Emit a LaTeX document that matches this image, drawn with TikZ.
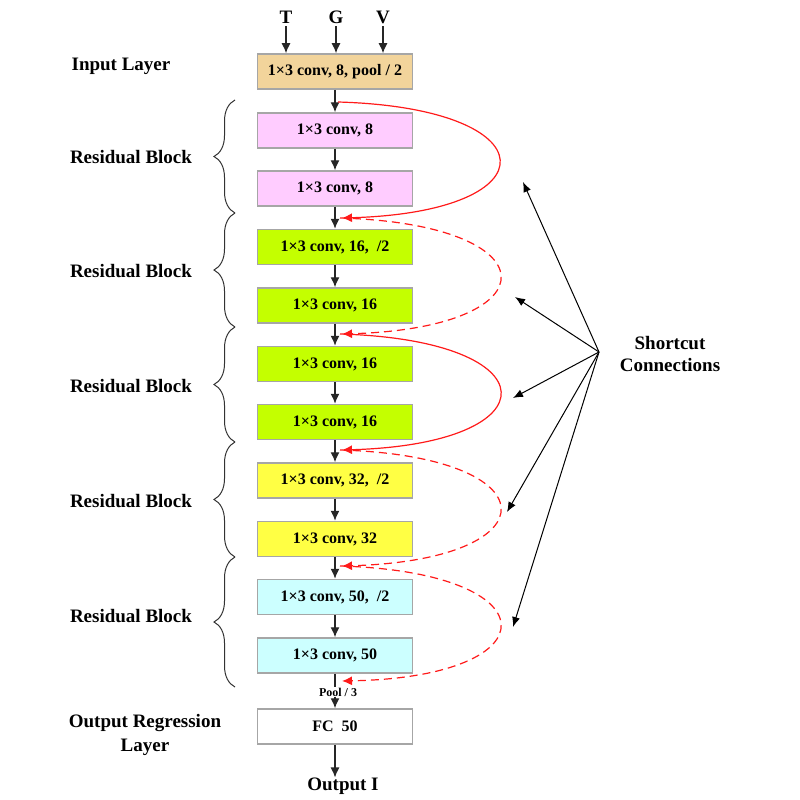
\documentclass[tikz,border=0pt]{standalone}
\usepackage{fontspec}
\setmainfont{Liberation Serif}
\usetikzlibrary{arrows.meta,decorations.pathreplacing,calc}
\definecolor{tanc}{HTML}{F2D49B}
\definecolor{pinkc}{HTML}{FFCCFF}
\definecolor{greenc}{HTML}{C4FF00}
\definecolor{yellowc}{HTML}{FFFF44}
\definecolor{cyanc}{HTML}{CCFFFF}
\definecolor{bordc}{HTML}{A6A6A6}
\definecolor{redc}{HTML}{FF1A1A}
\tikzset{
  layer/.style={draw=bordc,line width=1.5pt,minimum width=155pt,minimum height=35pt,inner sep=0pt,font=\fontsize{16}{18}\selectfont\bfseries},
  lbl/.style={font=\fontsize{19}{22}\selectfont\bfseries,inner sep=0pt,align=center},
  inp/.style={font=\fontsize{19}{22}\selectfont\bfseries,inner sep=0pt,outer sep=3pt},
  flow/.style={line width=1.3pt,draw=black!85,-{Latex[length=10pt,width=9pt]}},
  sc/.style={line width=1.2pt,draw=redc,-{Latex[length=10pt,width=9pt]}},
  scd/.style={sc,dash pattern=on 8pt off 5pt},
  pointer/.style={line width=1pt,-{Latex[length=10pt,width=8pt]}},
  brc/.style={decorate,decoration={brace,amplitude=21pt},line width=1pt,draw=black!80},
}
\begin{document}
\begin{tikzpicture}[x=1pt,y=-1pt]
\useasboundingbox (0,0) rectangle (800,800);
% top inputs
\node[inp] (T) at (286,17) {T};
\node[inp] (G) at (336,17) {G};
\node[inp] (V) at (383,17) {V};
% layers
\node[layer,fill=tanc] (in) at (335,71.5) {1×3 conv, 8, pool / 2};
\node[layer,fill=pinkc] (b1) at (335,130.5) {1×3 conv, 8};
\node[layer,fill=pinkc] (b2) at (335,188.5) {1×3 conv, 8};
\node[layer,fill=greenc] (b3) at (335,247) {1×3 conv, 16,\ \ /2};
\node[layer,fill=greenc] (b4) at (335,305.5) {1×3 conv, 16};
\node[layer,fill=greenc] (b5) at (335,364) {1×3 conv, 16};
\node[layer,fill=greenc] (b6) at (335,422) {1×3 conv, 16};
\node[layer,fill=yellowc] (b7) at (335,480.5) {1×3 conv, 32,\ \ /2};
\node[layer,fill=yellowc] (b8) at (335,539) {1×3 conv, 32};
\node[layer,fill=cyanc] (b9) at (335,597) {1×3 conv, 50,\ \ /2};
\node[layer,fill=cyanc] (b10) at (335,655.5) {1×3 conv, 50};
\node[layer,fill=white] (fc) at (335,726.5) {FC\ \ 50};
\node[lbl] (out) at (343,786) {Output I};
% input arrows
\draw[flow] (T.south) -- (T.south |- in.north);
\draw[flow] (G.south) -- (G.south |- in.north);
\draw[flow] (V.south) -- (V.south |- in.north);
% flow arrows
\draw[flow] (in) -- (b1);
\draw[flow] (b1) -- (b2);
\draw[flow] (b2) -- (b3);
\draw[flow] (b3) -- (b4);
\draw[flow] (b4) -- (b5);
\draw[flow] (b5) -- (b6);
\draw[flow] (b6) -- (b7);
\draw[flow] (b7) -- (b8);
\draw[flow] (b8) -- (b9);
\draw[flow] (b9) -- (b10);
\draw[flow] (b10) -- (fc);
\node[fill=white,inner sep=1pt,font=\fontsize{12}{14}\selectfont\bfseries] (pool) at (338,692) {Pool / 3};
\draw[flow] (fc) -- (fc.south |- out.north);
% shortcut start/end points
\coordinate (r0) at (338,102);
\coordinate (e1) at (342,218);
\coordinate (r1) at (340,218);
\coordinate (e2) at (342,334);
\coordinate (r2) at (340,334);
\coordinate (e3) at (342,450);
\coordinate (r3) at (340,450);
\coordinate (e4) at (342,566);
\coordinate (r4) at (340,566);
\coordinate (e5) at (342,681);
\draw[sc] (r0) .. controls +(212,6) and +(212,-6) .. (e1);
\draw[scd] (r1) .. controls +(212,6) and +(212,-6) .. (e2);
\draw[sc] (r2) .. controls +(212,6) and +(212,-6) .. (e3);
\draw[scd] (r3) .. controls +(212,6) and +(212,-6) .. (e4);
\draw[scd] (r4) .. controls +(212,6) and +(212,-4) .. (e5);
% shortcut label and pointers
\node[lbl] (scl) at (670,354) {Shortcut\\Connections};
\coordinate (hub) at (599,352);
\coordinate (p1) at (523,182);
\coordinate (p2) at (515,297);
\coordinate (p3) at (513,398);
\coordinate (p4) at (507,512);
\coordinate (p5) at (513,627);
\foreach \p in {p1,p2,p3,p4,p5} \draw[pointer] (hub) -- (\p);
% left labels
\node[lbl] (il) at (121,66) {Input Layer};
\node[lbl] (rb1) at (131,157) {Residual Block};
\node[lbl] (rb2) at (131,271) {Residual Block};
\node[lbl] (rb3) at (131,386) {Residual Block};
\node[lbl] (rb4) at (131,501) {Residual Block};
\node[lbl] (rb5) at (131,616) {Residual Block};
\node[lbl] (orl) at (145,735) {Output Regression\\[2pt]Layer};
% braces
\draw[brc] (235,213) -- (235,100);
\draw[brc] (235,327) -- (235,213);
\draw[brc] (235,442) -- (235,327);
\draw[brc] (235,557) -- (235,442);
\draw[brc] (235,687) -- (235,557);
\end{tikzpicture}
\end{document}
